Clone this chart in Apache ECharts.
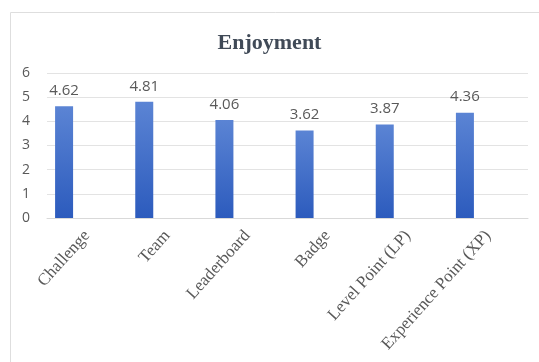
<!DOCTYPE html>
<html><head><meta charset="utf-8">
<script src="https://cdn.jsdelivr.net/npm/echarts@6/dist/echarts.min.js"></script>
<style>html,body{margin:0;padding:0;background:#fff}#c{width:539px;height:362px}</style>
</head><body><div id="c"></div>
<script>
var categories = ['Challenge','Team','Leaderboard','Badge','Level Point (LP)','Experience Point (XP)'];
var enjoyment = [4.62, 4.81, 4.06, 3.62, 3.87, 4.36];
var yTicks = [0,1,2,3,4,5,6];

var chart = echarts.init(document.getElementById('c'));
var gridTop = 73, gridBottom = 144;
chart.setOption({
  animation: false,
  title: {text: 'Enjoyment', left: 'center', top: 27,
    textStyle: {fontFamily: 'Liberation Serif', fontSize: 22, fontWeight: 'bold', color: '#404a57'}},
  graphic: [{type: 'rect', shape: {x: 10.5, y: 12.5, width: 540, height: 360},
    style: {fill: 'none', stroke: '#dedede', lineWidth: 1}, silent: true}],
  grid: [
    {left: 47, right: 11, top: gridTop, bottom: gridBottom},
    {left: 24, right: 34, top: gridTop, bottom: gridBottom}
  ],
  xAxis: [
    {type: 'category', gridIndex: 0, data: categories,
      axisLine: {show: true, lineStyle: {color: '#d9d9d9'}}, axisTick: {show: false},
      axisLabel: {rotate: 48, interval: 0, margin: 15, color: '#595959',
        fontFamily: 'Liberation Serif', fontSize: 17}},
    {type: 'category', gridIndex: 1, data: categories, show: false}
  ],
  yAxis: [
    {type: 'value', gridIndex: 0, min: yTicks[0], max: yTicks[yTicks.length-1], interval: 1,
      axisLine: {show: false}, axisTick: {show: false},
      splitLine: {lineStyle: {color: '#e3e3e3'}},
      axisLabel: {margin: 17, color: '#595959', fontFamily: 'Open Sans', fontSize: 14}},
    {type: 'value', gridIndex: 1, min: yTicks[0], max: yTicks[yTicks.length-1], interval: 1, show: false}
  ],
  series: [{
    type: 'bar', xAxisIndex: 1, yAxisIndex: 1, data: enjoyment, barWidth: 18,
    itemStyle: {color: new echarts.graphic.LinearGradient(0,0,0,1,[
      {offset: 0, color: '#5b84d4'}, {offset: 1, color: '#2c5bbd'}])},
    label: {show: true, position: 'top', distance: 8, color: '#595959',
      fontFamily: 'Open Sans', fontSize: 15}
  }]
});
</script></body></html>
